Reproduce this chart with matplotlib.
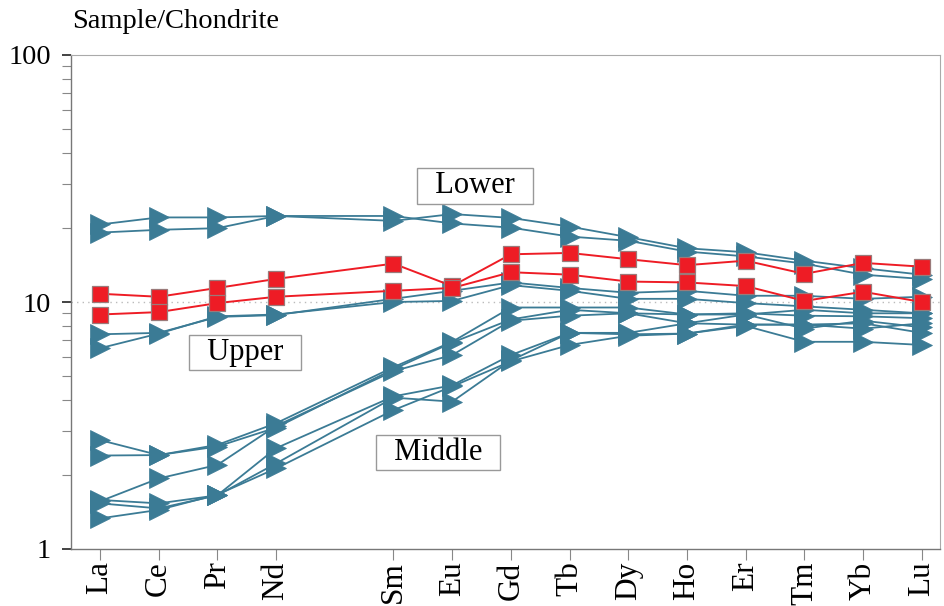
import matplotlib
matplotlib.use("Agg")
import matplotlib.pyplot as plt
from matplotlib.ticker import LogLocator, NullFormatter, FixedLocator

plt.rcParams['font.family'] = ['Liberation Serif', 'DejaVu Serif']

# REE order (Pm kept only for spacing, it has no data)
ree_order = ['La', 'Ce', 'Pr', 'Nd', 'Pm', 'Sm', 'Eu', 'Gd', 'Tb', 'Dy', 'Ho', 'Er', 'Tm', 'Yb', 'Lu']
elements = ['La', 'Ce', 'Pr', 'Nd', 'Sm', 'Eu', 'Gd', 'Tb', 'Dy', 'Ho', 'Er', 'Tm', 'Yb', 'Lu']

# chondrite-normalised values
red_1 = [10.8, 10.5, 11.4, 12.4, 14.3, 11.6, 15.6, 15.8, 14.9, 14.1, 14.7, 13.0, 14.4, 13.9]
red_2 = [8.9, 9.1, 9.9, 10.5, 11.1, 11.4, 13.2, 12.9, 12.1, 12.0, 11.6, 10.1, 11.0, 10.0]

lower_1 = [20.6, 22.0, 22.0, 22.3, 21.3, 22.7, 21.9, 20.2, 18.3, 16.5, 15.9, 14.7, 13.7, 12.9]
lower_2 = [19.1, 19.6, 19.9, 22.3, 22.3, 20.8, 20.0, 18.4, 17.7, 16.0, 15.3, 14.3, 12.9, 12.4]

upper_1 = [7.4, 7.5, 8.7, 8.85, 10.3, 11.1, 12.0, 11.4, 10.9, 11.1, 10.6, 10.6, 10.3, 10.5]
upper_2 = [6.5, 7.45, 8.75, 8.9, 10.0, 10.1, 11.7, 11.1, 10.3, 10.3, 9.9, 9.6, 9.3, 9.0]

middle_1 = [2.76, 2.40, 2.64, 3.23, 5.45, 6.9, 9.5, 9.5, 9.5, 8.9, 9.0, 8.8, 8.75, 8.6]
middle_2 = [2.39, 2.40, 2.60, 3.10, 5.35, 6.85, 8.5, 9.3, 9.0, 8.9, 8.9, 9.3, 9.0, 9.0]
middle_3 = [1.56, 1.93, 2.19, 3.15, 5.25, 6.1, 8.4, 8.8, 9.0, 8.2, 8.1, 8.1, 7.8, 8.2]
middle_4 = [1.58, 1.53, 1.65, 2.56, 4.15, 4.6, 6.1, 7.5, 7.5, 8.2, 8.9, 7.8, 8.4, 7.9]
middle_5 = [1.53, 1.46, 1.65, 2.22, 4.1, 3.95, 5.8, 7.5, 7.4, 7.45, 8.1, 8.1, 8.2, 7.5]
middle_6 = [1.33, 1.44, 1.66, 2.12, 3.65, 4.55, 5.75, 6.7, 7.3, 7.45, 8.0, 6.9, 6.9, 6.7]

blue_series = [lower_1, lower_2, upper_1, upper_2,
               middle_1, middle_2, middle_3, middle_4, middle_5, middle_6]
red_series = [red_1, red_2]

BLUE = '#3b7b95'
RED = '#ee1c25'

x = [ree_order.index(e) for e in elements]

fig = plt.figure(figsize=(9.45, 6.06), dpi=100)
ax = fig.add_axes([71 / 945, 1 - 549 / 606, (940 - 71) / 945, (549 - 55) / 606])

ax.axhline(10, color='#bbbbbb', lw=1.0, ls=(0, (1, 3)), zorder=1)

for s in blue_series:
    ax.plot(x, s, color=BLUE, lw=1.3, marker='>', ms=14.5,
            mfc=BLUE, mec=BLUE, mew=0.5, zorder=2)
for s in red_series:
    ax.plot(x, s, color=RED, lw=1.4, marker='s', ms=11.5,
            mfc=RED, mec='#9a7a7a', mew=0.9, zorder=3)

ax.set_yscale('log')
ax.set_ylim(1, 100)
ax.set_xlim(-0.494, 14.31)

ax.xaxis.set_major_locator(FixedLocator(x))
ax.set_xticklabels(elements, rotation=90, fontsize=22.5)
ax.yaxis.set_major_locator(FixedLocator([1, 10, 100]))
ax.set_yticklabels(['1', '10', '100'], fontsize=20.5)
ax.yaxis.set_minor_locator(LogLocator(base=10, subs=range(2, 10)))
ax.yaxis.set_minor_formatter(NullFormatter())

ax.tick_params(axis='y', which='major', direction='out', length=6.5, width=1.2,
               color='#222222', pad=8)
ax.tick_params(axis='y', which='minor', direction='out', length=6.5, width=0.8,
               color='#888888')
ax.tick_params(axis='x', which='major', direction='out', length=8, width=0.8,
               color='#888888', pad=1)

for side in ['left', 'bottom']:
    ax.spines[side].set_color('#777777')
    ax.spines[side].set_linewidth(1.0)
for side in ['top', 'right']:
    ax.spines[side].set_color('#aaaaaa')
    ax.spines[side].set_linewidth(0.8)

box = dict(boxstyle='square,pad=0.1', fc='white', ec='#999999', lw=1.0)
ax.text(6.39, 29.5, '  Lower  ', fontsize=22, ha='center', va='center', bbox=box, zorder=4)
ax.text(2.47, 6.22, '  Upper  ', fontsize=22, ha='center', va='center', bbox=box, zorder=4)
ax.text(5.76, 2.45, '  Middle  ', fontsize=22, ha='center', va='center', bbox=box, zorder=4)

fig.text(72 / 945, 1 - 28 / 606, 'Sample/Chondrite', fontsize=20.5, ha='left', va='baseline')

fig.savefig('out.png', dpi=100)
